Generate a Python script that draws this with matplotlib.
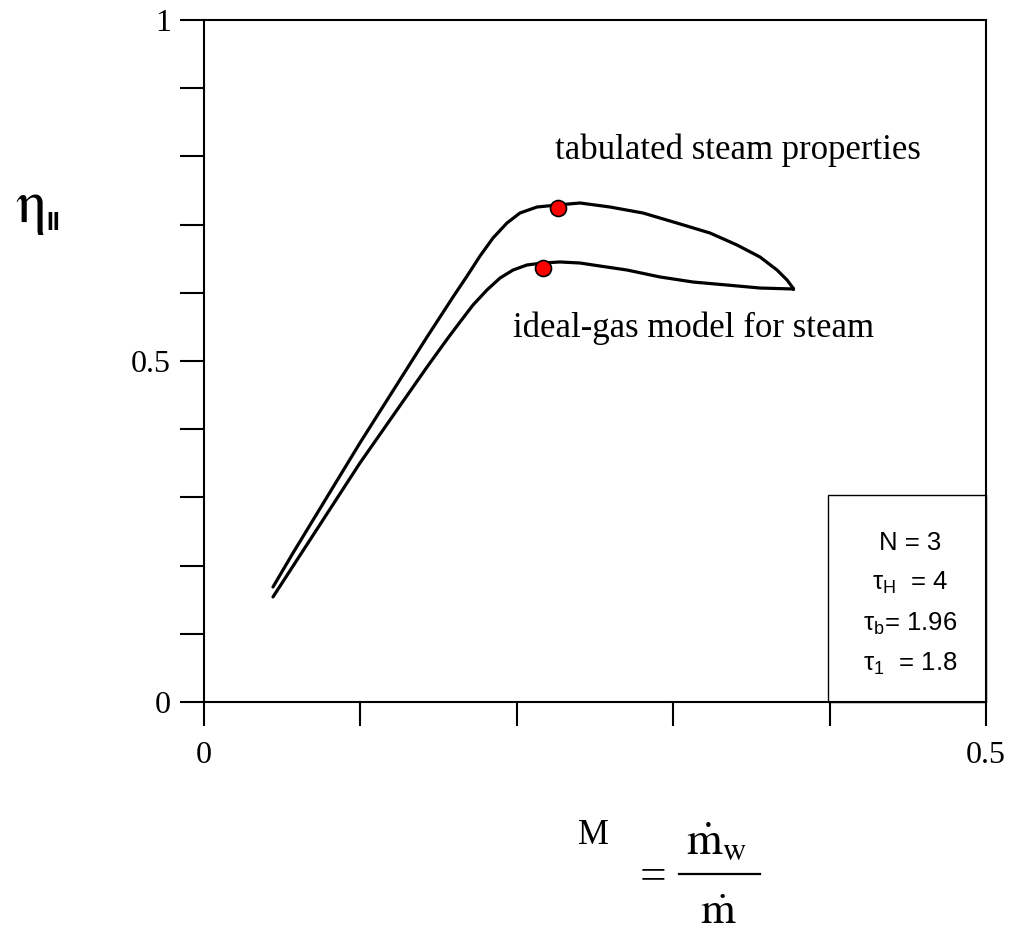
import numpy as np
import matplotlib
matplotlib.use('Agg')
import matplotlib.pyplot as plt
from matplotlib.patches import Rectangle
from matplotlib.lines import Line2D

# second-law efficiency vs. mass ratio, two property models
M_tab = [0.0441, 0.0569, 0.0997, 0.1426, 0.1509, 0.1592, 0.1682, 0.1765, 0.1848, 0.1937,
         0.2020, 0.2129, 0.2263, 0.2404, 0.2596, 0.2807, 0.3024, 0.3235, 0.3408, 0.3555,
         0.3664, 0.3728, 0.3766]
eta_tab = [0.1686, 0.2185, 0.3798, 0.5352, 0.5645, 0.5938, 0.6246, 0.6540, 0.6804, 0.7023,
           0.7170, 0.7258, 0.7288, 0.7317, 0.7258, 0.7170, 0.7023, 0.6877, 0.6701, 0.6525,
           0.6334, 0.6188, 0.6070]

M_ideal = [0.0441, 0.0997, 0.1426, 0.1560, 0.1637, 0.1720, 0.1809, 0.1893, 0.1976, 0.2065,
           0.2168, 0.2276, 0.2404, 0.2487, 0.2705, 0.2916, 0.3127, 0.3344, 0.3555, 0.3766]
eta_ideal = [0.1540, 0.3504, 0.4912, 0.5337, 0.5572, 0.5821, 0.6041, 0.6217, 0.6334, 0.6408,
             0.6437, 0.6452, 0.6437, 0.6408, 0.6334, 0.6232, 0.6158, 0.6114, 0.6070, 0.6056]

# optimum points
opt_M = [0.2263, 0.2168]
opt_eta = [0.7243, 0.6364]

params = ['N = 3', r'τ$_{\mathrm{H}}$  = 4', r'τ$_{\mathrm{b}}$= 1.96', r'τ$_{\mathrm{1}}$  = 1.8']

serif = ['Liberation Serif', 'DejaVu Serif']
sans = ['Liberation Sans', 'DejaVu Sans']
plt.rcParams['mathtext.rm'] = 'Liberation Sans'

fig = plt.figure(figsize=(10.15, 9.31), dpi=100)
ax = fig.add_axes([0.201, 0.246, 0.7704, 0.7325])

kw = dict(color='black', lw=2.3, solid_joinstyle='round', solid_capstyle='round')
ax.plot(M_tab, eta_tab, **kw)
ax.plot(M_ideal, eta_ideal, **kw)
# close the tip where the two curves meet
ax.plot([M_tab[-1], M_ideal[-1]], [eta_tab[-1], eta_ideal[-1]], **kw)
ax.plot(opt_M, opt_eta, 'o', ms=11.5, mfc='red', mec='black', mew=1.2, zorder=5)

ax.set_xlim(0, 0.5)
ax.set_ylim(0, 1)
ax.set_xticks(np.arange(0, 0.51, 0.1))
ax.set_xticklabels(['0', '', '', '', '', '0.5'])
ax.set_yticks(np.arange(0, 1.01, 0.1))
ax.set_yticklabels(['0', '', '', '', '', '0.5', '', '', '', '', '1'])
ax.tick_params(axis='both', direction='out', length=17, width=1.5, labelsize=23)
ax.tick_params(axis='x', pad=11)
ax.tick_params(axis='y', pad=7)
for lab in ax.get_xticklabels() + ax.get_yticklabels():
    lab.set_family(serif)
for sp in ax.spines.values():
    sp.set_linewidth(1.5)

ax.text(0.2244, 0.796, 'tabulated steam properties', fontsize=25, family=serif,
        ha='left', va='baseline')
ax.text(0.1976, 0.535, 'ideal-gas model for steam', fontsize=25, family=serif,
        ha='left', va='baseline')

# parameter box
ax.add_patch(Rectangle((0.399, 0), 0.101, 0.3035, fill=False, ec='black', lw=1.0,
                       clip_on=False, zorder=3))
for i, s in enumerate(params):
    ax.text(0.4514, 0.2229 - i * 0.0587, s, fontsize=18.5, family=sans,
            math_fontfamily='custom', ha='center', va='baseline')

# y label
fig.text(0.0296, 0.7766, r'$\mathrm{\eta}$', fontsize=44, math_fontfamily='stix',
         ha='center', va='center')
fig.text(0.0522, 0.7605, 'II', fontsize=18, family=sans, weight='bold', ha='center', va='center')

# x label: M = m_w / m
fig.text(0.5842, 0.1023, 'M', fontsize=25, family=serif, ha='center', va='center')
fig.text(0.6433, 0.0565, '=', fontsize=34, family=serif, ha='center', va='center')
fig.text(0.7055, 0.0816, r'$\dot{\mathrm{m}}_{\mathrm{w}}$', fontsize=33,
         math_fontfamily='stix', ha='center', va='baseline')
fig.add_artist(Line2D([0.669, 0.749], [0.0612, 0.0612], color='black', lw=1.6))
fig.text(0.7075, 0.0075, r'$\dot{\mathrm{m}}$', fontsize=32,
         math_fontfamily='stix', ha='center', va='baseline')

fig.savefig('out.png', dpi=100, facecolor='white')
